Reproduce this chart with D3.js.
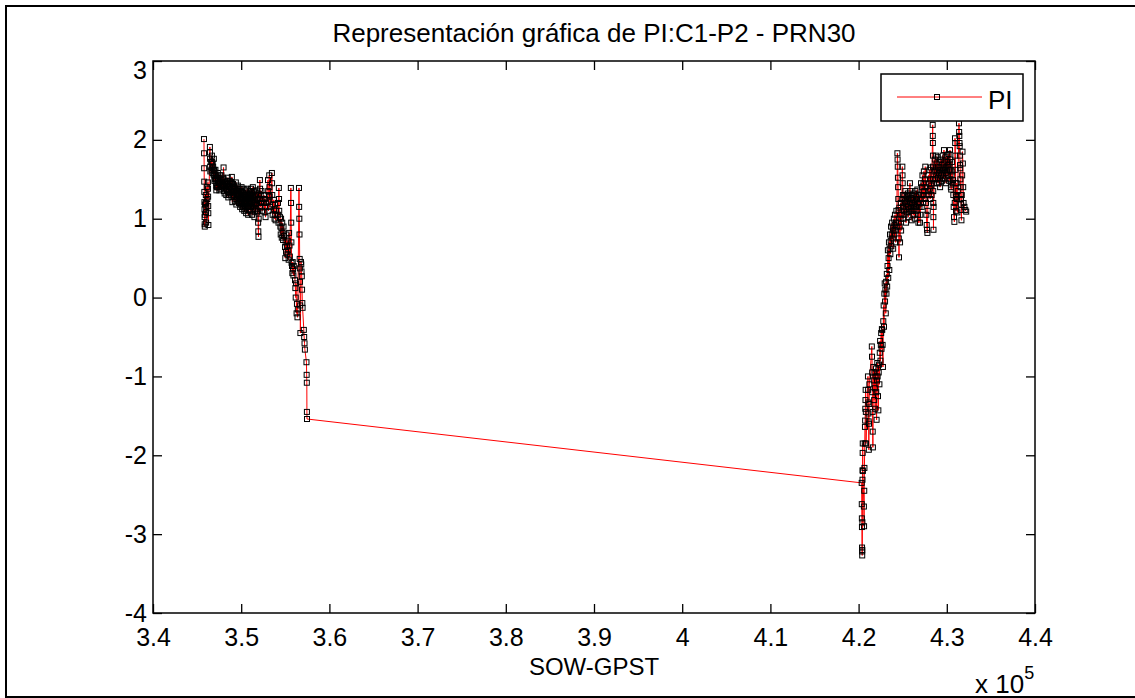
<!DOCTYPE html>
<html><head><meta charset="utf-8">
<script src="https://cdn.jsdelivr.net/npm/d3@7"></script>
<style>
html,body{margin:0;padding:0;background:#fff;}
text{font-family:"Liberation Sans",Arial,sans-serif;}
</style></head>
<body><svg id="chart" width="1135" height="698"></svg>
<script>
// ---- data (SOW seconds, PI metres) ----
const chartTitle = "Representación gráfica de PI:C1-P2 - PRN30";
const xLabel = "SOW-GPST";
const legendLabel = "PI";
const xTickValues = [340000,350000,360000,370000,380000,390000,400000,410000,420000,430000,440000];
const yTickValues = [-4,-3,-2,-1,0,1,2,3];

const pass1 = [
[345780,2.01],[345790,1.83],[345800,1.64],[345810,1.47],[345820,1.34],[345830,1.21],[345840,1.12],[345850,1.02],[345860,0.93],[345870,0.90],[345880,1.05],[345890,1.18],
[345990,1.30],[346000,1.20],[346010,1.08],[346020,0.95],[346030,1.15],
[346100,1.40],[346160,1.25],
[346230,1.46],[346240,1.38],[346250,1.28],[346260,1.16],[346270,1.07],[346280,0.92],
[346450,1.91],[346460,1.84],[346470,1.76],[346480,1.66],[346500,1.60],
[346560,1.72],[346620,1.62],
[346680,1.80],[346700,1.72],[346720,1.64],[346740,1.58],[346760,1.70],
[346820,1.66],[346860,1.56],
[346900,1.76],[346920,1.62],[346940,1.55],[346960,1.48],[346980,1.60],
[347040,1.50],[347080,1.62],
[347120,1.55],[347140,1.50],[347160,1.42],[347180,1.36],[347200,1.45],
[347260,1.40],[347300,1.52],
[347350,1.58],[347370,1.48],[347390,1.40],[347410,1.52],
[347470,1.45],[347520,1.36],
[347580,1.55],[347600,1.46],[347620,1.38],[347640,1.50],
[347700,1.42],[347760,1.55],
[347820,1.47],[347850,1.40],[347900,1.52],[347950,1.43],[348000,1.65],[348020,1.50],[348040,1.35],[348060,1.42],
[348120,1.32],[348190,1.45],
[348250,1.47],[348280,1.38],[348310,1.30],[348340,1.44],
[348400,1.36],[348440,1.48],
[348480,1.52],[348500,1.42],[348520,1.34],[348540,1.27],[348560,1.40],
[348620,1.30],[348660,1.44],
[348700,1.48],[348730,1.40],[348760,1.32],[348790,1.45],
[348850,1.36],[348900,1.28],
[348940,1.53],[348960,1.45],[348980,1.33],[349000,1.21],[349020,1.38],
[349080,1.44],[349120,1.30],
[349160,1.42],[349180,1.35],[349200,1.28],[349220,1.40],
[349280,1.22],[349340,1.38],
[349390,1.46],[349410,1.33],[349430,1.25],[349450,1.18],[349470,1.36],
[349530,1.28],[349580,1.38],
[349620,1.42],[349640,1.30],[349660,1.22],[349680,1.35],
[349740,1.20],[349790,1.32],
[349840,1.38],[349860,1.25],[349880,1.15],[349900,1.30],
[349920,1.20],[349950,1.35],[349980,1.28],[350010,1.18],[350040,1.40],
[350070,1.34],[350090,1.22],[350110,1.12],[350130,1.28],
[350150,1.20],[350180,1.33],[350210,1.15],[350240,1.27],[350270,1.38],
[350300,1.30],[350320,1.18],[350340,1.10],[350360,1.25],
[350380,1.16],[350410,1.30],[350440,1.22],[350470,1.12],[350500,1.28],
[350520,1.36],[350540,1.22],[350560,1.07],[350580,1.20],
[350600,1.30],[350630,1.15],[350660,1.25],[350690,1.38],[350720,1.20],
[350750,1.28],[350770,1.15],[350790,1.05],[350810,1.22],
[350830,1.30],[350860,1.12],[350890,1.26],[350920,1.18],[350950,1.32],
[350980,1.35],[351000,1.20],[351020,1.10],[351040,1.25],
[351060,1.15],[351090,1.28],
[351120,1.38],[351140,1.26],[351160,1.15],[351180,1.30],[351200,1.22],[351230,1.05],[351260,1.32],[351290,1.20],[351320,1.40],[351350,1.28],[351380,1.12],[351410,1.24],[351440,1.35],[351470,1.18],[351500,1.02],[351530,1.28],[351560,1.22],[351590,1.10],[351620,1.30],[351650,1.18],
[351680,1.30],[351710,1.12],[351740,1.24],[351770,1.36],[351800,1.20],[351830,1.08],[351860,1.32],
[351880,1.25],[351900,1.10],[351920,0.95],[351940,0.84],[351960,0.77],[351980,1.00],
[352120,1.49],[352140,1.38],[352160,1.25],[352180,1.15],[352200,1.30],[352250,1.20],[352300,1.35],[352330,1.22],[352360,1.10],
[352580,1.30],[352600,1.20],[352640,1.08],[352680,1.25],[352720,1.15],[352760,1.02],[352800,1.20],
[353040,1.49],[353060,1.35],[353080,1.22],[353100,1.10],[353140,1.30],[353180,1.55],[353200,1.40],[353220,1.28],[353260,1.15],
[353480,1.58],[353500,1.45],[353520,1.30],[353540,1.18],[353560,1.05],
[353700,1.24],[353740,1.12],[353780,1.00],[353820,1.18],[353860,1.05],[353900,0.98],[353940,1.10],
[354170,1.20],[354200,1.05],[354230,0.95],[354270,1.39],[354290,1.25],[354310,1.10],
[354400,1.02],[354440,0.90],[354480,0.80],[354520,1.00],[354560,0.88],[354600,0.76],[354650,0.95],[354700,0.82],[354750,0.73],[354800,0.90],[354850,0.78],
[354970,0.64],[355000,0.50],[355040,0.70],[355080,0.58],[355130,0.80],[355180,0.65],[355230,0.55],[355280,0.72],[355330,0.60],[355380,0.48],[355430,0.82],[355480,0.66],[355520,0.52],
[355630,1.39],[355650,1.20],[355670,0.95],[355690,0.70],[355710,0.44],
[355760,0.40],[355800,0.31],[355840,0.45],[355880,0.36],[355920,0.28],[355960,0.40],
[356100,0.22],[356140,0.12],[356180,0.00],[356220,0.18],[356280,-0.20],[356320,-0.08],[356380,-0.25],[356420,-0.15],
[356550,1.39],[356570,1.15],[356590,1.00],[356610,0.80],[356630,0.49],[356650,0.37],[356670,0.20],[356690,-0.10],[356710,-0.45],
[356780,0.45],[356810,0.42],[356840,0.33],[356870,0.27],[356900,0.10],[356930,-0.07],[356960,-0.13],
[357100,-0.41],[357140,-0.50],[357180,-0.58],[357220,-0.66],
[357400,-0.82],[357420,-0.98],[357440,-1.08],[357450,-1.45],[357460,-1.54]
];

const pass2 = [
[420350,-2.35],[420360,-2.62],[420370,-2.80],[420380,-2.91],[420390,-3.17],[420400,-3.22],[420410,-3.27],[420420,-3.20],[420430,-2.85],[420440,-2.31],[420450,-2.19],[420460,-1.97],[420470,-1.85],[420480,-2.20],
[420600,-2.65],[420620,-2.90],[420640,-2.45],[420660,-2.16],[420700,-1.85],[420720,-1.64],[420740,-1.56],[420760,-1.41],[420780,-1.30],[420800,-1.17],[420820,-1.45],[420840,-1.85],
[421060,-1.00],[421080,-1.17],[421100,-1.33],[421120,-1.47],[421140,-1.57],[421160,-1.93],[421180,-1.60],[421200,-1.35],[421220,-1.10],
[421500,-0.62],[421520,-0.75],[421540,-0.95],[421560,-1.20],[421580,-1.45],[421600,-1.70],[421620,-1.90],
[421680,-0.88],[421720,-1.05],[421760,-1.30],[421800,-0.95],[421840,-1.15],[421880,-1.41],[421920,-1.00],[421960,-0.90],[422000,-1.20],[422040,-1.55],[422080,-1.05],
[422120,-0.83],[422160,-1.00],[422200,-1.25],[422240,-1.43],[422280,-0.95],[422320,-0.85],[422360,-1.10],[422400,-0.70],[422440,-0.55],[422480,-0.80],[422520,-0.60],[422560,-0.45],[422600,-0.65],[422640,-0.40],
[422680,-0.41],[422720,-0.60],[422760,-0.88],[422800,-0.30],[422840,-0.10],[422880,-0.37],[422920,0.05],[422960,0.18],[423000,-0.05],[423040,0.10],[423080,-0.20],[423120,0.20],[423160,0.05],[423200,0.30],
[423240,0.14],[423280,0.40],[423320,0.60],[423360,0.25],[423400,0.50],[423440,0.70],[423480,0.35],[423520,0.62],[423560,0.80],
[423600,0.55],[423640,0.72],[423680,0.90],[423720,0.65],[423760,0.80],[423800,0.95],[423840,0.75],[423880,0.88],[423920,0.62],[423960,0.85],[424000,1.00],[424040,0.80],[424080,0.92],[424120,1.05],[424160,0.85],[424200,0.70],[424240,0.95],[424280,1.10],[424320,0.90],
[424400,1.83],[424420,1.75],[424440,1.66],[424460,1.52],[424480,1.40],[424500,1.25],[424520,1.11],[424540,0.95],[424560,0.75],[424580,0.51],
[424620,1.14],[424660,0.90],[424700,0.70],[424740,1.00],[424780,1.20],[424820,0.85],[424860,1.05],[424900,1.25],
[424960,1.66],[424980,1.55],[425000,1.45],[425020,1.30],[425040,1.15],[425060,1.00],
[425100,1.20],[425140,1.10],[425180,1.30],[425220,1.05],[425260,1.22],[425300,1.35],[425340,1.12],[425380,0.95],[425420,1.18],[425460,1.28],[425500,1.08],[425540,1.22],[425580,1.32],[425620,1.15],[425660,1.02],[425700,1.25],[425740,1.12],[425780,1.30],[425820,1.45],[425840,1.35],[425860,1.20],[425900,1.10],[425940,1.26],[425980,1.15],[426020,0.98],[426060,1.20],[426100,1.30],[426140,1.10],[426180,1.24],[426220,1.05],[426260,1.18],[426300,1.32],[426340,1.12],[426380,1.00],[426420,1.22],[426460,1.35],[426500,1.15],[426540,1.28],[426580,1.10],[426620,1.25],[426660,1.37],[426700,1.18],[426740,1.05],[426780,0.95],[426820,1.20],[426860,1.30],[426900,1.15],
[426960,0.95],[427000,1.05],[427040,1.25],[427080,1.45],[427120,1.30],[427160,1.15],[427200,1.40],[427240,1.55],[427280,1.30],
[427320,1.20],[427360,1.45],[427400,1.60],[427440,1.35],[427480,1.25],[427520,1.50],[427560,1.66],[427600,1.40],[427640,1.20],[427680,1.05],[427720,0.92],[427760,0.86],[427800,0.82],[427840,1.10],[427880,1.35],[427920,1.55],[427960,1.30],
[428000,1.45],[428040,1.62],[428080,1.38],[428120,1.25],[428160,1.50],[428200,1.65],[428240,1.42],[428280,1.30],
[428400,2.19],[428410,2.05],[428420,1.96],[428430,1.80],[428440,1.66],[428450,1.50],[428460,1.35],[428470,1.20],[428480,1.02],[428490,0.86],[428500,1.15],
[428560,1.45],[428600,1.60],[428640,1.75],[428680,1.50],[428720,1.62],[428760,1.80],[428800,1.55],[428840,1.70],[428880,1.45],[428920,1.60],[428960,1.78],
[429000,1.52],[429040,1.65],[429080,1.45],[429120,1.58],[429160,1.72],[429200,1.50],[429240,1.40],[429280,1.62],[429320,1.75],[429360,1.55],[429400,1.68],[429440,1.48],[429480,1.60],[429520,1.80],[429560,1.62],[429600,1.52],[429640,1.70],[429680,1.87],[429720,1.65],[429760,1.50],[429800,1.62],[429840,1.78],[429880,1.58],[429920,1.45],[429960,1.66],[430000,1.80],[430040,1.60],[430080,1.72],[430120,1.55],[430160,1.68],[430200,1.82],[430240,1.62],[430280,1.48],[430320,1.70],
[430360,1.87],[430380,1.75],[430400,1.62],[430420,1.50],[430460,1.40],[430500,1.37],[430540,1.55],[430580,1.72],[430620,1.60],[430660,1.45],
[430700,1.49],[430740,1.30],[430780,1.15],[430820,1.02],[430860,0.96],[430900,1.20],[430930,2.02],[430950,1.96],[430970,1.80],[430990,1.62],[431010,1.45],[431030,1.28],[431050,1.10],[431080,1.30],[431120,1.45],[431160,1.25],[431200,1.08],[431240,1.35],
[431380,2.21],[431400,2.10],[431420,2.05],[431440,1.96],[431460,1.92],[431480,1.80],[431500,1.68],[431520,1.64],[431540,1.50],[431560,1.40],[431580,1.30],[431600,1.25],[431620,1.18],[431640,1.11],[431660,0.98],[431700,1.30],[431740,1.55],[431780,1.85],[431820,1.70],[431860,1.40],[431900,1.20],
[432000,1.15],[432100,1.11],[432200,1.09]
];

// ---- layout ----
const W = 1135, H = 698;
const plot = {left:153, right:1035, top:61, bottom:613};
const FONT = 26, TICKFONT = 25, XLFONT = 24;

const svg = d3.select("#chart");
svg.append("rect").attr("width",W).attr("height",H).attr("fill","#fff");
// figure frame (cropped at right/bottom like the reference)
svg.append("rect").attr("x",6).attr("y",6).attr("width",1140).attr("height",691)
  .attr("fill","none").attr("stroke","#000").attr("stroke-width",2);

const x = d3.scaleLinear().domain([340000,440000]).range([plot.left,plot.right]);
const y = d3.scaleLinear().domain([-4,3]).range([plot.bottom,plot.top]);

svg.append("rect").attr("x",plot.left).attr("y",plot.top)
  .attr("width",plot.right-plot.left).attr("height",plot.bottom-plot.top).attr("fill","#fff");

const fmtX = d => String(+(d/1e5).toFixed(1));
const fmtY = d => String(d);
const TL = 9;

const gB = svg.append("g").attr("transform",`translate(0,${plot.bottom})`)
  .call(d3.axisBottom(x).tickValues(xTickValues).tickFormat(fmtX).tickSizeInner(-TL).tickSizeOuter(0).tickPadding(15));
const gT = svg.append("g").attr("transform",`translate(0,${plot.top})`)
  .call(d3.axisTop(x).tickValues(xTickValues).tickFormat("").tickSizeInner(-TL).tickSizeOuter(0));
const gL = svg.append("g").attr("transform",`translate(${plot.left},0)`)
  .call(d3.axisLeft(y).tickValues(yTickValues).tickFormat(fmtY).tickSizeInner(-TL).tickSizeOuter(0).tickPadding(6));
const gR = svg.append("g").attr("transform",`translate(${plot.right},0)`)
  .call(d3.axisRight(y).tickValues(yTickValues).tickFormat("").tickSizeInner(-TL).tickSizeOuter(0));

[gB,gT,gL,gR].forEach(g=>{
  g.select(".domain").remove();
  g.selectAll("line").attr("stroke","#000").attr("stroke-width",1.3);
  g.selectAll("text").attr("fill","#000").style("font-size",TICKFONT+"px").style("font-family","'Liberation Sans',Arial,sans-serif");
});
// top y label kept inside the box (MATLAB style)
gL.selectAll(".tick").filter(d=>d===3).select("text").attr("transform","translate(0,9)");

// data line + markers
const allPts = pass1.concat(pass2);
const line = d3.line().x(d=>x(d[0])).y(d=>y(d[1]));
svg.append("path").datum(allPts).attr("d",line)
  .attr("fill","none").attr("stroke","#ff0000").attr("stroke-width",1);
const MS = 5;
svg.append("g").selectAll("rect").data(allPts).join("rect")
  .attr("x",d=>x(d[0])-MS/2).attr("y",d=>y(d[1])-MS/2)
  .attr("width",MS).attr("height",MS)
  .attr("fill","none").attr("stroke","#000").attr("stroke-width",1);

// axes box
svg.append("rect").attr("x",plot.left).attr("y",plot.top)
  .attr("width",plot.right-plot.left).attr("height",plot.bottom-plot.top)
  .attr("fill","none").attr("stroke","#000").attr("stroke-width",1.5);

// title
svg.append("text").attr("x",(plot.left+plot.right)/2).attr("y",42)
  .attr("text-anchor","middle").style("font-size",FONT+"px").text(chartTitle);
// x label
svg.append("text").attr("x",(plot.left+plot.right)/2).attr("y",675)
  .attr("text-anchor","middle").style("font-size",XLFONT+"px").text(xLabel);
// exponent
const ex = svg.append("text").attr("x",975).attr("y",693).style("font-size",FONT+"px");
ex.append("tspan").text("x 10");
ex.append("tspan").attr("dy",-14).style("font-size","18px").text("5");

// legend
const lg = {x0:881, y0:74, x1:1023, y1:121};
svg.append("rect").attr("x",lg.x0).attr("y",lg.y0).attr("width",lg.x1-lg.x0).attr("height",lg.y1-lg.y0)
  .attr("fill","#fff").attr("stroke","#000").attr("stroke-width",1.5);
svg.append("line").attr("x1",897).attr("x2",982).attr("y1",97).attr("y2",97)
  .attr("stroke","#ff0000").attr("stroke-width",1);
svg.append("rect").attr("x",937-MS/2).attr("y",97-MS/2).attr("width",MS).attr("height",MS)
  .attr("fill","none").attr("stroke","#000").attr("stroke-width",1);
svg.append("text").attr("x",988).attr("y",109).style("font-size",FONT+"px").text(legendLabel);
</script>
</body></html>
